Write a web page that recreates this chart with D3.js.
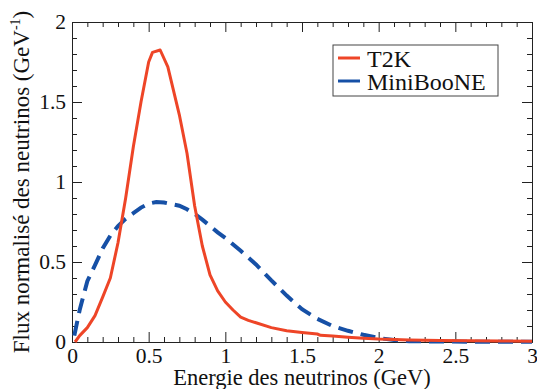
<!DOCTYPE html>
<html lang="fr">
<head>
    <meta charset="UTF-8">
    <title>Flux de neutrinos T2K / MiniBooNE</title>
    <script src="https://cdn.jsdelivr.net/npm/d3@7"></script>
    <style>
        body { margin: 0; background: #fff; }
        svg { display: block; }
        .axis path, .axis line { stroke: #222; stroke-width: 1; }
    </style>
</head>
<body>
<svg width="537" height="389"></svg>
<script>
    // T2K flux
    const t2kEnergy = [0.02, 0.05, 0.10, 0.15, 0.20, 0.25, 0.30, 0.35, 0.40, 0.45, 0.50, 0.525, 0.575, 0.625, 0.70, 0.75, 0.80, 0.85, 0.90, 0.95, 1.00, 1.05, 1.10, 1.15, 1.20, 1.30, 1.40, 1.50, 1.60, 1.62, 1.70, 1.80, 1.90, 2.00, 2.20, 2.40, 2.60, 2.80, 3.00];
    const t2kFlux   = [0.00, 0.04, 0.09, 0.165, 0.28, 0.40, 0.62, 0.90, 1.22, 1.50, 1.75, 1.81, 1.825, 1.72, 1.42, 1.18, 0.85, 0.60, 0.42, 0.32, 0.25, 0.20, 0.155, 0.135, 0.12, 0.09, 0.07, 0.06, 0.05, 0.042, 0.037, 0.03, 0.024, 0.018, 0.013, 0.01, 0.008, 0.006, 0.005];

    // MiniBooNE flux
    const mbEnergy = [0.015, 0.05, 0.10, 0.15, 0.20, 0.25, 0.30, 0.35, 0.40, 0.45, 0.50, 0.55, 0.60, 0.65, 0.70, 0.75, 0.80, 0.85, 0.90, 0.95, 1.00, 1.10, 1.20, 1.30, 1.40, 1.50, 1.60, 1.70, 1.80, 1.90, 2.00, 2.10, 2.20, 2.40, 2.60, 3.00];
    const mbFlux   = [0.04, 0.20, 0.38, 0.48, 0.585, 0.665, 0.725, 0.77, 0.805, 0.84, 0.865, 0.875, 0.872, 0.862, 0.852, 0.83, 0.80, 0.765, 0.725, 0.685, 0.65, 0.57, 0.485, 0.385, 0.29, 0.205, 0.145, 0.10, 0.07, 0.045, 0.025, 0.012, 0.005, 0.003, 0.002, 0.001];

    const xTicks = [0, 0.5, 1, 1.5, 2, 2.5, 3];
    const yTicks = [0, 0.5, 1, 1.5, 2];
    const legendLabels = ["T2K", "MiniBooNE"];
    const colors = ["#ee4527", "#1650a6"];

    const serif = "Liberation Serif, DejaVu Serif, serif";

    const svg = d3.select("svg");
    const margin = {top: 22, right: 5, bottom: 47, left: 72};
    const width = +svg.attr("width") - margin.left - margin.right;
    const height = +svg.attr("height") - margin.top - margin.bottom;
    const g = svg.append("g").attr("transform", `translate(${margin.left},${margin.top})`);

    const x = d3.scaleLinear().domain([0, 3]).range([0, width]);
    const y = d3.scaleLinear().domain([0, 2]).range([height, 0]);

    const xMinor = d3.range(0, 3.001, 0.1).map(d => +d.toFixed(1)).filter(d => !xTicks.includes(d));
    const yMinor = d3.range(0, 2.001, 0.1).map(d => +d.toFixed(1)).filter(d => !yTicks.includes(d));
    const fmt = d3.format("");

    function axisG(axis, tx, ty) {
        const a = g.append("g").attr("class", "axis")
            .attr("transform", `translate(${tx},${ty})`)
            .call(axis);
        a.attr("font-family", serif).attr("font-size", 21.5);
        a.selectAll("text").attr("fill", "#111");
        return a;
    }

    // bottom
    axisG(d3.axisBottom(x).tickValues(xTicks).tickFormat(fmt).tickSize(-10).tickSizeOuter(0).tickPadding(6), 0, height);
    axisG(d3.axisBottom(x).tickValues(xMinor).tickFormat("").tickSize(-5).tickSizeOuter(0), 0, height);
    // top
    axisG(d3.axisTop(x).tickValues(xTicks).tickFormat("").tickSize(-10).tickSizeOuter(0), 0, 0);
    axisG(d3.axisTop(x).tickValues(xMinor).tickFormat("").tickSize(-5).tickSizeOuter(0), 0, 0);
    // left
    axisG(d3.axisLeft(y).tickValues(yTicks).tickFormat(fmt).tickSize(-10).tickSizeOuter(0).tickPadding(6), 0, 0);
    axisG(d3.axisLeft(y).tickValues(yMinor).tickFormat("").tickSize(-5).tickSizeOuter(0), 0, 0);
    // right
    axisG(d3.axisRight(y).tickValues(yTicks).tickFormat("").tickSize(-10).tickSizeOuter(0), width, 0);
    axisG(d3.axisRight(y).tickValues(yMinor).tickFormat("").tickSize(-5).tickSizeOuter(0), width, 0);

    const line = d3.line().x(d => x(d[0])).y(d => y(d[1]));

    g.append("path")
        .datum(d3.zip(mbEnergy, mbFlux))
        .attr("fill", "none")
        .attr("stroke", colors[1])
        .attr("stroke-width", 4)
        .attr("stroke-dasharray", "15,8")
        .attr("d", line);

    g.append("path")
        .datum(d3.zip(t2kEnergy, t2kFlux))
        .attr("fill", "none")
        .attr("stroke", colors[0])
        .attr("stroke-width", 3)
        .attr("stroke-linejoin", "round")
        .attr("d", line);

    // axis titles
    svg.append("text")
        .attr("font-family", serif).attr("font-size", 22.5).attr("fill", "#111")
        .attr("x", margin.left + width / 2).attr("y", 385)
        .attr("text-anchor", "middle")
        .text("Energie des neutrinos (GeV)");

    const yt = svg.append("text")
        .attr("font-family", serif).attr("font-size", 23).attr("fill", "#111")
        .attr("transform", `translate(29,${margin.top + height / 2}) rotate(-90)`)
        .attr("text-anchor", "middle");
    yt.append("tspan").text("Flux normalisé des neutrinos (GeV");
    yt.append("tspan").attr("dy", -9).attr("font-size", 14).text("-1");
    yt.append("tspan").attr("dy", 9).text(")");

    // legend
    const leg = svg.append("g").attr("transform", "translate(333,45)");
    leg.append("rect").attr("width", 165).attr("height", 51)
        .attr("fill", "#fff").attr("stroke", "#444").attr("stroke-width", 1);
    legendLabels.forEach((name, i) => {
        const row = leg.append("g").attr("transform", `translate(0,${13 + i * 23})`);
        row.append("line").attr("x1", 5).attr("x2", 27)
            .attr("stroke", colors[i]).attr("stroke-width", 3);
        row.append("text").attr("x", 34).attr("y", 8.5)
            .attr("font-family", serif).attr("font-size", 24).attr("fill", "#111")
            .text(name);
    });
</script>
</body>
</html>
